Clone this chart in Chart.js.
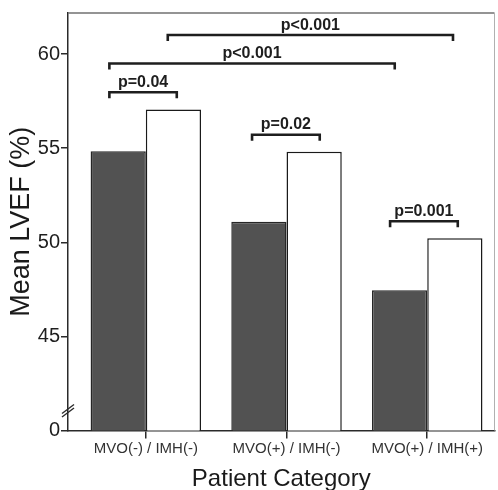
<!DOCTYPE html>
<html>
<head>
<meta charset="utf-8">
<script src="https://cdn.jsdelivr.net/npm/chart.js@4.4.1/dist/chart.umd.min.js"></script>
<style>
  html, body { margin: 0; padding: 0; background: #ffffff; }
  #wrap { width: 498px; height: 490px; position: relative; }
</style>
</head>
<body>
<div id="wrap"><canvas id="c"></canvas></div>
<script>
// ---- data ----
const categories = ['MVO(-) / IMH(-)', 'MVO(+) / IMH(-)', 'MVO(+) / IMH(+)'];
const darkValues = [54.84, 51.09, 47.45];
const whiteValues = [57.05, 54.81, 50.22];
const yTickValues = [40, 45, 50, 55, 60];
const yTickLabels = ['0', '45', '50', '55', '60'];
// significance brackets: span in category units, level in LVEF units
const bracketText = ['p=0.04', 'p<0.001', 'p<0.001', 'p=0.02', 'p=0.001'];
const bracketFrom = [-0.259, -0.259, 0.156, 0.755, 1.736];
const bracketTo = [0.220, 1.769, 2.183, 1.236, 2.217];
const bracketLevel = [57.97, 59.50, 61.01, 55.71, 51.12];

const FONT = "'Liberation Sans', Arial, Helvetica, sans-serif";
const AXIS = '#2a2a2a';

const annotPlugin = {
  id: 'annot',
  afterDraw(chart) {
    const {ctx, chartArea: a, scales: {x, y}} = chart;
    ctx.save();
    // frame top and right
    ctx.strokeStyle = '#707070';
    ctx.lineWidth = 1.5;
    ctx.beginPath();
    ctx.moveTo(a.left, a.top);
    ctx.lineTo(a.right, a.top);
    ctx.stroke();
    ctx.strokeStyle = '#b0b0b0';
    ctx.lineWidth = 1;
    ctx.beginPath();
    ctx.moveTo(a.right, a.top);
    ctx.lineTo(a.right, a.bottom);
    ctx.stroke();
    // axis break marks
    const by = y.getPixelForValue(41.05);
    ctx.strokeStyle = AXIS;
    ctx.lineWidth = 1.4;
    [-1.8, 1.8].forEach(d => {
      ctx.beginPath();
      ctx.moveTo(a.left - 6, by + d + 4.5);
      ctx.lineTo(a.left + 6, by + d - 4.5);
      ctx.stroke();
    });
    // brackets
    ctx.strokeStyle = '#1e1e1e';
    ctx.fillStyle = '#1e1e1e';
    ctx.lineWidth = 2.6;
    ctx.font = 'bold 16px ' + FONT;
    ctx.textAlign = 'center';
    ctx.textBaseline = 'alphabetic';
    bracketText.forEach((t, i) => {
      const x1 = x.getPixelForValue(bracketFrom[i]);
      const x2 = x.getPixelForValue(bracketTo[i]);
      const yy = y.getPixelForValue(bracketLevel[i]);
      ctx.beginPath();
      ctx.moveTo(x1, yy + 6);
      ctx.lineTo(x1, yy);
      ctx.lineTo(x2, yy);
      ctx.lineTo(x2, yy + 6);
      ctx.stroke();
      ctx.fillText(t, (x1 + x2) / 2, yy - 5.5);
    });
    ctx.restore();
  }
};

new Chart(document.getElementById('c'), {
  type: 'bar',
  data: {
    datasets: [
      {
        label: 'Filled',
        data: darkValues.map((v, i) => ({x: i, y: v})),
        backgroundColor: '#525252',
        borderColor: '#262626',
        borderWidth: 1.5
      },
      {
        label: 'Open',
        data: whiteValues.map((v, i) => ({x: i, y: v})),
        backgroundColor: '#ffffff',
        borderColor: '#1a1a1a',
        borderWidth: 1.5
      }
    ]
  },
  options: {
    responsive: true,
    maintainAspectRatio: false,
    animation: false,
    devicePixelRatio: 1,
    categoryPercentage: 0.785,
    barPercentage: 1,
    layout: { padding: { top: 11, right: 3.5, left: 0, bottom: 0 } },
    plugins: { legend: { display: false }, tooltip: { enabled: false } },
    scales: {
      x: {
        type: 'linear',
        min: -0.553,
        max: 2.478,
        offset: false,
        afterFit(s) { s.height = 59.5; },
        afterBuildTicks(s) { s.ticks = categories.map((c, i) => ({value: i})); },
        grid: { display: true, offset: false, drawOnChartArea: false, drawTicks: true, tickLength: 8, color: AXIS, lineWidth: 1.5 },
        border: { display: true, color: AXIS, width: 1.5 },
        ticks: {
          autoSkip: false, maxRotation: 0, padding: 1,
          color: '#333', font: { family: FONT, size: 15 },
          callback: (v, i) => categories[i]
        },
        title: {
          display: true, text: 'Patient Category', color: '#1a1a1a',
          font: { family: FONT, size: 24, lineHeight: 0.9 }, padding: { top: 0, bottom: 0 }
        }
      },
      y: {
        type: 'linear',
        min: 40,
        max: 62.18,
        afterFit(s) { s.width = 68; },
        afterBuildTicks(s) { s.ticks = yTickValues.map(v => ({value: v})); },
        grid: { display: true, drawOnChartArea: false, drawTicks: true, tickLength: 7, color: AXIS, lineWidth: 1.5 },
        border: { display: true, color: AXIS, width: 1.5 },
        ticks: {
          padding: 1, color: '#1e1e1e', font: { family: FONT, size: 20 },
          callback: (v, i) => yTickLabels[i]
        },
        title: {
          display: true, text: 'Mean LVEF (%)', color: '#1a1a1a',
          font: { family: FONT, size: 27, lineHeight: 1.1 }, padding: { top: 7, bottom: 0 }
        }
      }
    }
  },
  plugins: [annotPlugin]
});
</script>
</body>
</html>
